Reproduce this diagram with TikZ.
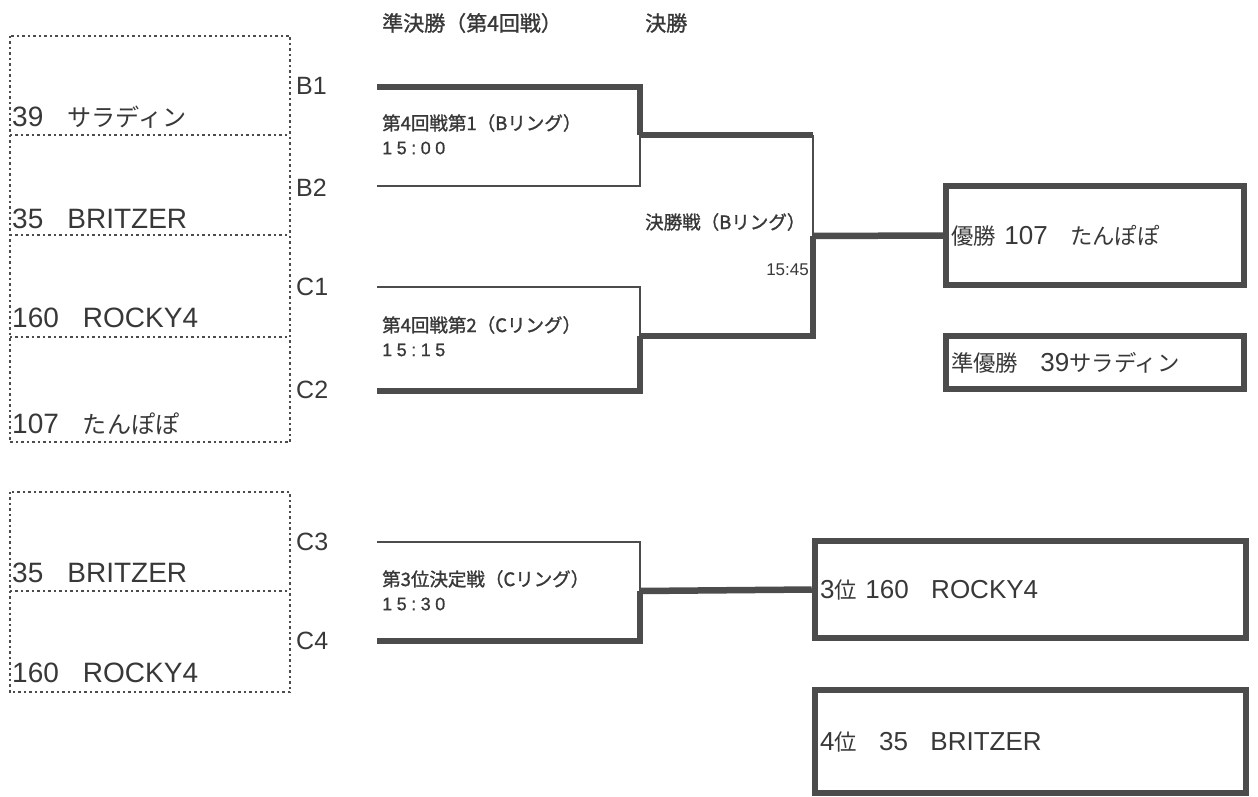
\documentclass[tikz,border=0pt]{standalone}
\usepackage{fontspec}
\setmainfont{Liberation Sans}
\newfontfamily\jpfont{Noto Sans CJK JP}[Scale=0.86]
\newfontfamily\jplabel{Noto Sans CJK JP}[FakeBold=1.2]
\newfontfamily\timefont{Liberation Sans}[LetterSpace=25, FakeBold=0.8]
\newcommand{\jsp}{{\jpfont　}}
\definecolor{ink}{gray}{0.22}
\definecolor{lines}{gray}{0.3}
\definecolor{dotline}{gray}{0.3}

\tikzstyle{slot} = [rectangle, inner sep=0pt, minimum width=280pt]
\tikzstyle{dotted line} = [draw=dotline, line width=2.5pt, dash pattern=on 2.5pt off 3pt]
\tikzstyle{entry} = [anchor=base west, inner sep=0pt, text=ink, font=\fontsize{28}{30}\selectfont]
\tikzstyle{slotlabel} = [anchor=base west, inner sep=0pt, text=ink, font=\fontsize{25}{28}\selectfont]
\tikzstyle{heading} = [anchor=west, inner sep=0pt, text=ink, font=\jplabel\fontsize{21}{23}\selectfont]
\tikzstyle{match} = [anchor=west, inner sep=0pt, text=ink, font=\jplabel\fontsize{18.5}{20}\selectfont]
\tikzstyle{clock} = [anchor=west, inner sep=0pt, text=ink, font=\timefont\fontsize{18}{20}\selectfont]
\tikzstyle{resultbox} = [rectangle, draw=lines, line width=6.5pt, inner xsep=5pt, inner ysep=0pt, align=left, text=ink, font=\fontsize{26}{28}\selectfont]
\tikzstyle{thickline} = [draw=lines, line width=6.5pt]
\tikzstyle{thinline} = [draw=lines, line width=2pt]

\begin{document}
\begin{tikzpicture}[x=1pt, y=-1pt]
	\useasboundingbox (0,0) rectangle (1258,797);
	\fill[white] (0,0) rectangle (1258,797);

	\node[heading] (semi) at (382,23) {準決勝（第4回戦）};
	\node[heading] (final) at (645,23) {決勝};

	\node[slot, minimum height=99pt] (slotB1) at (150,85.5) {};
	\node[slot, minimum height=100pt] (slotB2) at (150,185) {};
	\node[slot, minimum height=102pt] (slotC1) at (150,286) {};
	\node[slot, minimum height=105pt] (slotC2) at (150,389.5) {};
	\node[slot, minimum height=99pt] (slotC3) at (150,541.5) {};
	\node[slot, minimum height=101pt] (slotC4) at (150,641.5) {};
	\draw[dotted line] (slotB1.north west) rectangle (slotC2.south east);
	\draw[dotted line] (slotB1.south west) -- (slotB1.south east);
	\draw[dotted line] (slotB2.south west) -- (slotB2.south east);
	\draw[dotted line] (slotC1.south west) -- (slotC1.south east);
	\draw[dotted line] (slotC3.north west) rectangle (slotC4.south east);
	\draw[dotted line] (slotC3.south west) -- (slotC3.south east);

	\node[entry] (e1) at (12,127) {39\jsp{\jpfont サラディン}};
	\node[entry] (e2) at (12,228) {35\jsp BRITZER};
	\node[entry] (e3) at (12,327) {160\jsp ROCKY4};
	\node[entry] (e4) at (12,433) {107\jsp{\jpfont たんぽぽ}};
	\node[entry] (e5) at (12,582) {35\jsp BRITZER};
	\node[entry] (e6) at (12,682) {160\jsp ROCKY4};

	\node[slotlabel] (B1) at (296,95) {B1};
	\node[slotlabel] (B2) at (296,196) {B2};
	\node[slotlabel] (C1) at (296,295) {C1};
	\node[slotlabel] (C2) at (296,398) {C2};
	\node[slotlabel] (C3) at (296,550) {C3};
	\node[slotlabel] (C4) at (296,649) {C4};

	\coordinate (b1in) at (377,87);
	\coordinate (b2in) at (377,186);
	\coordinate (c1in) at (377,287);
	\coordinate (c2in) at (377,391);
	\coordinate (c3in) at (377,542);
	\coordinate (c4in) at (377,641);
	\coordinate (sf1) at (640,135);
	\coordinate (sf2) at (640,336);
	\coordinate (fin) at (813,236);
	\coordinate (third) at (640,591);

	\node[resultbox, minimum width=298pt, minimum height=99pt, text width=288pt] (champ) at (1095,235.5) {{\jpfont 優勝} 107\jsp{\jpfont たんぽぽ}};
	\node[resultbox, minimum width=298pt, minimum height=53pt, text width=288pt] (second) at (1095,362.5) {{\jpfont 準優勝}\jsp 39{\jpfont サラディン}};
	\node[resultbox, minimum width=431pt, minimum height=97pt, text width=421pt] (bronze) at (1030.5,589.5) {3{\jpfont 位} 160\jsp ROCKY4};
	\node[resultbox, minimum width=431pt, minimum height=103pt, text width=421pt] (fourth) at (1030.5,741.5) {4{\jpfont 位}\jsp 35\jsp BRITZER};

	\draw[thickline] (b1in) -| (sf1);
	\draw[thinline] (b2in) -| (sf1);
	\draw[thinline] (c1in) -| (sf2);
	\draw[thickline] (c2in) -| (sf2);
	\draw[thickline] (sf1) -- (sf1 -| fin);
	\draw[thinline] (sf1 -| fin) -- (fin);
	\draw[thickline] (sf2) -| (fin);
	\draw[thickline] (fin) -- (champ.west);
	\draw[thinline] (c3in) -| (third);
	\draw[thickline] (c4in) -| (third);
	\draw[thickline] (third) -- (bronze.west);

	\node[match] (m1) at (382,123) {第4回戦第1（Bリング）};
	\node[clock] (t1) at (382,148) {15:00};
	\node[match] (m2) at (382,325) {第4回戦第2（Cリング）};
	\node[clock] (t2) at (382,350) {15:15};
	\node[match] (m3) at (382,579) {第3位決定戦（Cリング）};
	\node[clock] (t3) at (382,604) {15:30};
	\node[match] (mf) at (645,222) {決勝戦（Bリング）};
	\node[anchor=east, inner sep=0pt, text=ink, font=\fontsize{17}{19}\selectfont] (tf) at (809,270) {15:45};
\end{tikzpicture}
\end{document}
